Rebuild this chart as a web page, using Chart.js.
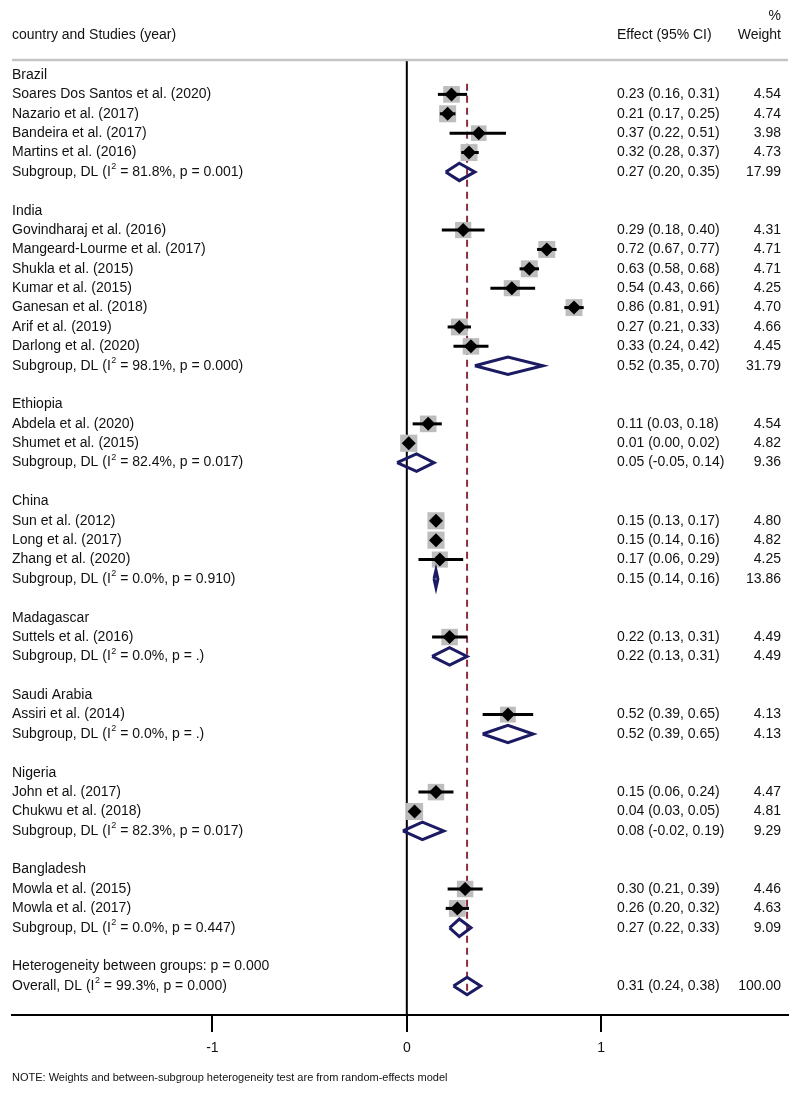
<!DOCTYPE html>
<html>
<head>
<meta charset="utf-8">
<script src="https://cdn.jsdelivr.net/npm/chart.js@4.4.1/dist/chart.umd.min.js"></script>
<style>
  html, body { margin: 0; padding: 0; background: #fff; }
  #wrap { width: 800px; height: 1096px; }
</style>
</head>
<body>
<div id="wrap"><canvas id="forest" width="800" height="1096"></canvas></div>
<script>
// ---- data ----
const countries = ['Brazil', 'India', 'Ethiopia', 'China', 'Madagascar', 'Saudi Arabia', 'Nigeria', 'Bangladesh'];

const studyNames = [
  'Soares Dos Santos et al. (2020)', 'Nazario et al. (2017)', 'Bandeira et al. (2017)', 'Martins et al. (2016)',
  'Govindharaj et al. (2016)', 'Mangeard-Lourme et al. (2017)', 'Shukla et al. (2015)', 'Kumar et al. (2015)',
  'Ganesan et al. (2018)', 'Arif et al. (2019)', 'Darlong et al. (2020)',
  'Abdela et al. (2020)', 'Shumet et al. (2015)',
  'Sun et al. (2012)', 'Long et al. (2017)', 'Zhang et al. (2020)',
  'Suttels et al. (2016)',
  'Assiri et al. (2014)',
  'John et al. (2017)', 'Chukwu et al. (2018)',
  'Mowla et al. (2015)', 'Mowla et al. (2017)'
];
const studyGroup  = [0, 0, 0, 0, 1, 1, 1, 1, 1, 1, 1, 2, 2, 3, 3, 3, 4, 5, 6, 6, 7, 7];
const studyEst    = [0.23, 0.21, 0.37, 0.32, 0.29, 0.72, 0.63, 0.54, 0.86, 0.27, 0.33, 0.11, 0.01, 0.15, 0.15, 0.17, 0.22, 0.52, 0.15, 0.04, 0.30, 0.26];
const studyLow    = [0.16, 0.17, 0.22, 0.28, 0.18, 0.67, 0.58, 0.43, 0.81, 0.21, 0.24, 0.03, 0.00, 0.13, 0.14, 0.06, 0.13, 0.39, 0.06, 0.03, 0.21, 0.20];
const studyHigh   = [0.31, 0.25, 0.51, 0.37, 0.40, 0.77, 0.68, 0.66, 0.91, 0.33, 0.42, 0.18, 0.02, 0.17, 0.16, 0.29, 0.31, 0.65, 0.24, 0.05, 0.39, 0.32];
const studyWeight = [4.54, 4.74, 3.98, 4.73, 4.31, 4.71, 4.71, 4.25, 4.70, 4.66, 4.45, 4.54, 4.82, 4.80, 4.82, 4.25, 4.49, 4.13, 4.47, 4.81, 4.46, 4.63];

const subI2     = ['81.8%', '98.1%', '82.4%', '0.0%', '0.0%', '0.0%', '82.3%', '0.0%'];
const subP      = ['0.001', '0.000', '0.017', '0.910', '.', '.', '0.017', '0.447'];
const subEst    = [0.27, 0.52, 0.05, 0.15, 0.22, 0.52, 0.08, 0.27];
const subLow    = [0.20, 0.35, -0.05, 0.14, 0.13, 0.39, -0.02, 0.22];
const subHigh   = [0.35, 0.70, 0.14, 0.16, 0.31, 0.65, 0.19, 0.33];
const subWeight = [17.99, 31.79, 9.36, 13.86, 4.49, 4.13, 9.29, 9.09];

const overall = { est: 0.31, low: 0.24, high: 0.38, weight: 100.00, i2: '99.3%', p: '0.000' };
const heterogeneityP = '0.000';
const xTicks = [-1, 0, 1];

// ---- build the row layout ----
const rows = [];
let r = 0;
countries.forEach((c, g) => {
  rows.push({ kind: 'country', text: c, y: r++ });
  studyNames.forEach((n, i) => {
    if (studyGroup[i] === g) rows.push({ kind: 'study', i: i, y: r++ });
  });
  rows.push({ kind: 'sub', g: g, y: r++ });
  r++;
});
rows.push({ kind: 'het', y: r++ });
rows.push({ kind: 'overall', y: r++ });

const studyRows = rows.filter(d => d.kind === 'study');
const diamondRows = rows.filter(d => d.kind === 'sub' || d.kind === 'overall');

const FONT = '"Liberation Sans", Arial, sans-serif';
const INK = '#111';
const NAVY = '#1b1a62';
const Y_MIN = -0.774, Y_MAX = 48.5;

const fmt = v => v.toFixed(2);
const ciText = (e, l, h) => fmt(e) + ' (' + fmt(l) + ', ' + fmt(h) + ')';

const datasets = [];

// study point estimates (black diamonds)
datasets.push({
  data: studyRows.map(d => ({ x: studyEst[d.i], y: d.y })),
  pointStyle: 'rectRot', pointRadius: 7, backgroundColor: '#000', borderWidth: 0, order: 0
});

// confidence intervals
studyRows.forEach(d => {
  datasets.push({
    data: [{ x: studyLow[d.i], y: d.y }, { x: studyHigh[d.i], y: d.y }],
    showLine: true, borderColor: '#000', borderWidth: 3, pointRadius: 0, order: 1
  });
});

// weight boxes
datasets.push({
  data: studyRows.map(d => ({ x: studyEst[d.i], y: d.y })),
  pointStyle: 'rect',
  pointRadius: studyRows.map(d => 0.707 * 7.8 * Math.sqrt(studyWeight[d.i])),
  backgroundColor: '#bdbdbd', borderWidth: 0, order: 2
});

// pooled diamonds
diamondRows.forEach(d => {
  const e = d.kind === 'sub' ? subEst[d.g] : overall.est;
  const l = d.kind === 'sub' ? subLow[d.g] : overall.low;
  const h = d.kind === 'sub' ? subHigh[d.g] : overall.high;
  datasets.push({
    data: [{ x: l, y: d.y }, { x: e, y: d.y - 0.45 }, { x: h, y: d.y }, { x: e, y: d.y + 0.45 }, { x: l, y: d.y }],
    showLine: true, borderColor: NAVY, borderWidth: 3, borderJoinStyle: 'miter',
    pointRadius: 0, fill: false, order: 1
  });
});

// overall effect reference (dashed)
datasets.push({
  data: [{ x: overall.est, y: 0.45 }, { x: overall.est, y: rows[rows.length - 1].y + 0.3 }],
  showLine: true, borderColor: '#8b2e3c', borderWidth: 2, borderDash: [7, 5], pointRadius: 0, order: 3
});

// null line
datasets.push({
  data: [{ x: 0, y: Y_MIN }, { x: 0, y: Y_MAX }],
  showLine: true, borderColor: '#000', borderWidth: 2, pointRadius: 0, order: 4
});

function drawSup(ctx, text, x, y) {
  // "I^2" -> I with superscript 2
  const parts = text.split('^2');
  ctx.textAlign = 'left';
  let cx = x;
  parts.forEach((p, k) => {
    ctx.font = '14px ' + FONT;
    ctx.fillText(p, cx, y);
    cx += ctx.measureText(p).width;
    if (k < parts.length - 1) {
      ctx.font = '9px ' + FONT;
      ctx.fillText('2', cx + 0.5, y - 5);
      cx += ctx.measureText('2').width + 0.5;
    }
  });
}

const textPlugin = {
  id: 'forestText',
  afterDraw(chart) {
    const ctx = chart.ctx;
    const ys = chart.scales.y;
    const area = chart.chartArea;
    ctx.save();

    // top rule
    ctx.strokeStyle = '#c4c4c4';
    ctx.lineWidth = 2.5;
    ctx.beginPath();
    ctx.moveTo(area.left, area.top);
    ctx.lineTo(area.right, area.top);
    ctx.stroke();

    ctx.fillStyle = INK;
    ctx.textBaseline = 'middle';
    ctx.font = '14px ' + FONT;

    // header
    ctx.textAlign = 'left';
    ctx.fillText('country and Studies (year)', 12, 35);
    ctx.fillText('Effect (95% CI)', 617, 35);
    ctx.textAlign = 'right';
    ctx.fillText('Weight', 781, 35);
    ctx.fillText('%', 781, 16);

    const colEffect = 617, colWeight = 781;
    rows.forEach(d => {
      const py = ys.getPixelForValue(d.y);
      ctx.font = '14px ' + FONT;
      if (d.kind === 'country') {
        ctx.textAlign = 'left';
        ctx.fillText(d.text, 12, py);
      } else if (d.kind === 'study') {
        const i = d.i;
        ctx.textAlign = 'left';
        ctx.fillText(studyNames[i], 12, py);
        ctx.fillText(ciText(studyEst[i], studyLow[i], studyHigh[i]), colEffect, py);
        ctx.textAlign = 'right';
        ctx.fillText(fmt(studyWeight[i]), colWeight, py);
      } else if (d.kind === 'sub') {
        const g = d.g;
        drawSup(ctx, 'Subgroup, DL (I^2 = ' + subI2[g] + ', p = ' + subP[g] + ')', 12, py);
        ctx.font = '14px ' + FONT;
        ctx.textAlign = 'left';
        ctx.fillText(ciText(subEst[g], subLow[g], subHigh[g]), colEffect, py);
        ctx.textAlign = 'right';
        ctx.fillText(fmt(subWeight[g]), colWeight, py);
      } else if (d.kind === 'het') {
        ctx.textAlign = 'left';
        ctx.fillText('Heterogeneity between groups: p = ' + heterogeneityP, 12, py);
      } else {
        drawSup(ctx, 'Overall, DL (I^2 = ' + overall.i2 + ', p = ' + overall.p + ')', 12, py);
        ctx.font = '14px ' + FONT;
        ctx.textAlign = 'left';
        ctx.fillText(ciText(overall.est, overall.low, overall.high), colEffect, py);
        ctx.textAlign = 'right';
        ctx.fillText(fmt(overall.weight), colWeight, py);
      }
    });

    // footnote
    ctx.textAlign = 'left';
    ctx.font = '11px ' + FONT;
    ctx.fillText('NOTE: Weights and between-subgroup heterogeneity test are from random-effects model', 12, 1078);
    ctx.restore();
  }
};

new Chart(document.getElementById('forest').getContext('2d'), {
  type: 'scatter',
  data: { datasets: datasets },
  options: {
    responsive: false,
    animation: false,
    devicePixelRatio: 1,
    layout: { padding: { left: 12, right: 10, top: 60, bottom: 31 } },
    plugins: { legend: { display: false }, tooltip: { enabled: false } },
    scales: {
      x: {
        type: 'linear',
        position: 'bottom',
        min: -2.03,
        max: 1.96,
        afterBuildTicks: s => { s.ticks = xTicks.map(v => ({ value: v })); },
        afterFit: s => { s.height = 50; },
        grid: { display: true, drawOnChartArea: false, drawTicks: true, tickLength: 17, color: '#000', lineWidth: 2 },
        border: { display: true, color: '#000', width: 2 },
        ticks: { font: { family: FONT, size: 14 }, color: INK, padding: 8, callback: v => String(v) }
      },
      y: {
        type: 'linear',
        min: Y_MIN,
        max: Y_MAX,
        reverse: true,
        display: false
      }
    }
  },
  plugins: [textPlugin]
});
</script>
</body>
</html>
